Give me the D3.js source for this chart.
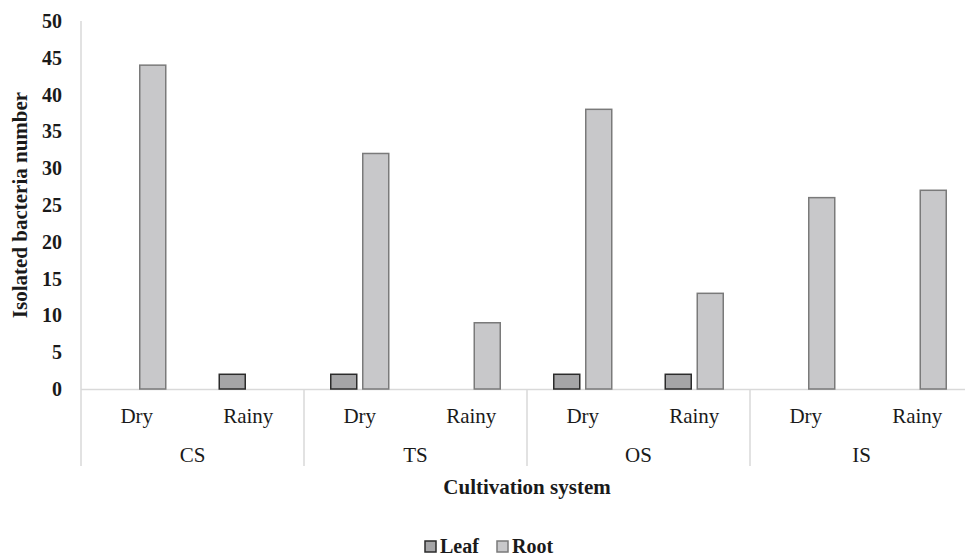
<!DOCTYPE html>
<html><head><meta charset="utf-8">
<script src="https://cdn.jsdelivr.net/npm/d3@7"></script>
<style>body{margin:0;background:#fff}svg{display:block}</style>
</head><body><svg id="c" width="965" height="557"></svg>
<script>
const systems = ["CS","TS","OS","IS"];
const seasons = ["Dry","Rainy"];
const series = ["Leaf","Root"];
const leafValues = [0,2, 2,0, 2,2, 0,0];
const rootValues = [44,0, 32,9, 38,13, 26,27];
const yTicks = [0,5,10,15,20,25,30,35,40,45,50];
const colors = {Leaf:{fill:"#a5a5a7",stroke:"#2b2b2b"},Root:{fill:"#c8c8ca",stroke:"#7a7a7a"}};
const FONT = "Tinos";
const INK = "#1a1a1a";

const svg = d3.select("#c");
const pL = 81, pR = 973, pT = 21, pB = 389;
const cats = [];
systems.forEach(s => seasons.forEach(se => cats.push(s + "|" + se)));
const x0 = d3.scaleBand().domain(cats).range([pL, pR]);
const xs = d3.scaleBand().domain(systems).range([pL, pR]);
const y = d3.scaleLinear().domain([0,50]).range([pB, pT]);
const bw = x0.bandwidth();
const x1 = d3.scaleBand().domain(series).range([bw/2 - 29, bw/2 + 29]).paddingInner(0.1875);

// axis lines
svg.append("line").attr("x1", pL).attr("x2", pL).attr("y1", pT).attr("y2", pB).attr("stroke","#d9d9d9").attr("stroke-width",1.5);
svg.append("line").attr("x1", pL).attr("x2", pR).attr("y1", pB+0.5).attr("y2", pB+0.5).attr("stroke","#d9d9d9").attr("stroke-width",1.5);
systems.forEach(s => {
  svg.append("line").attr("x1", xs(s)).attr("x2", xs(s)).attr("y1", pB).attr("y2", 466).attr("stroke","#d9d9d9").attr("stroke-width",1.5);
});

// y axis labels
const ya = svg.append("g").attr("transform", `translate(${pL-12},0)`)
  .call(d3.axisLeft(y).tickValues(yTicks).tickSize(0).tickPadding(7));
ya.select(".domain").remove();
ya.attr("font-family", FONT).attr("font-size", 20);
ya.selectAll("text").attr("font-family",FONT).attr("font-size",20).attr("font-weight","bold").attr("fill",INK);

// bars
const data = [];
cats.forEach((c,i) => {
  data.push({cat:c, key:"Leaf", value:leafValues[i]});
  data.push({cat:c, key:"Root", value:rootValues[i]});
});
svg.append("g").selectAll("rect").data(data.filter(d => d.value > 0)).join("rect")
  .attr("x", d => x0(d.cat) + x1(d.key))
  .attr("y", d => y(d.value))
  .attr("width", x1.bandwidth())
  .attr("height", d => y(0) - y(d.value))
  .attr("fill", d => colors[d.key].fill)
  .attr("stroke", d => colors[d.key].stroke)
  .attr("stroke-width", 1.5);

function txt(sel){ return sel.attr("font-family",FONT).attr("fill",INK); }

// x labels
txt(svg.append("g").selectAll("text").data(cats).join("text"))
  .attr("x", d => x0(d) + bw/2).attr("y", 423)
  .attr("text-anchor","middle").attr("font-size",21)
  .text(d => d.split("|")[1]);
txt(svg.append("g").selectAll("text").data(systems).join("text"))
  .attr("x", d => xs(d) + xs.bandwidth()/2).attr("y", 462)
  .attr("text-anchor","middle").attr("font-size",21)
  .text(d => d);

// axis titles
txt(svg.append("text")).attr("x", 527).attr("y", 494).attr("text-anchor","middle")
  .attr("font-size",21).attr("font-weight","bold").text("Cultivation system");
txt(svg.append("text")).attr("transform","translate(27,205) rotate(-90)").attr("text-anchor","middle")
  .attr("font-size",21).attr("font-weight","bold").text("Isolated bacteria number");

// legend
const lg = svg.append("g");
const legX = [425, 497];
series.forEach((s,i) => {
  lg.append("rect").attr("x", legX[i]).attr("y", 541).attr("width", 11).attr("height", 11)
    .attr("fill", colors[s].fill).attr("stroke", colors[s].stroke).attr("stroke-width",1.5);
  txt(lg.append("text")).attr("x", legX[i] + 15).attr("y", 553).attr("font-size",20).attr("font-weight","bold").text(s);
});
</script></body></html>
